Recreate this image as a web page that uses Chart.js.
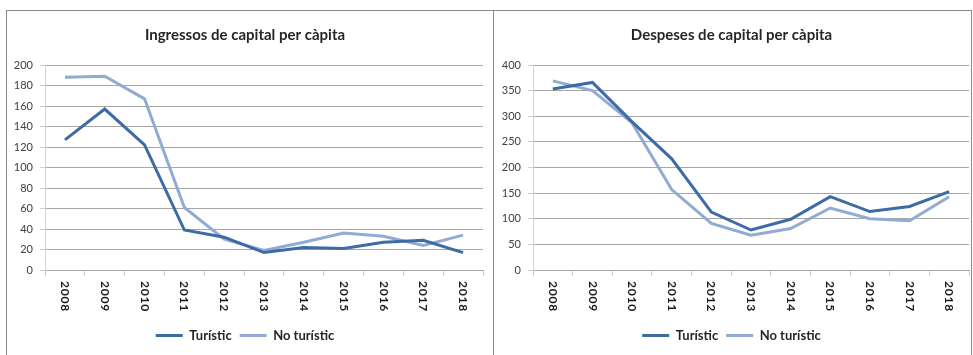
<!DOCTYPE html>
<html>
<head>
<meta charset="utf-8">
<script src="https://cdn.jsdelivr.net/npm/chart.js@4.4.1/dist/chart.umd.min.js"></script>
<style>
  html, body { margin: 0; padding: 0; background: #fff; }
  body { width: 973px; height: 355px; position: relative; overflow: hidden; }
  .panel { position: absolute; top: 10px; height: 360px; border-top: 1px solid #8a8a8a; border-left: 1px solid #8a8a8a; box-sizing: border-box; }
  #p1 { left: 6px; width: 488px; }
  #p2 { left: 493px; width: 479px; border-right: 1px solid #8a8a8a; }
  .panel canvas { position: absolute; left: 0; top: 0; }
</style>
</head>
<body>
<div class="panel" id="p1"><canvas id="ingressos" width="486" height="344"></canvas></div>
<div class="panel" id="p2"><canvas id="despeses" width="477" height="344"></canvas></div>
<script>
const years = ["2008", "2009", "2010", "2011", "2012", "2013", "2014", "2015", "2016", "2017", "2018"]

// Ingressos de capital per càpita
const ingressosTuristic   = [127, 157, 122, 39, 32, 17, 22, 21, 27, 29, 17]
const ingressosNoTuristic = [188, 189, 167, 61, 30, 19, 27, 36, 33, 24, 34]

// Despeses de capital per càpita
const despesesTuristic   = [353, 366, 289, 217, 113, 78, 99, 143, 114, 124, 153]
const despesesNoTuristic = [369, 350, 287, 157, 91, 68, 81, 121, 100, 96, 143]

const DARK = "#3d6ba5"
const LIGHT = "#91abd3"
const FONT = "Lato, 'Open Sans', sans-serif"

// year labels read top-to-bottom under the axis
const verticalYears = {
  id: "verticalYears",
  afterDraw(chart) {
    const scale = chart.scales.x
    const ctx = chart.ctx
    ctx.save()
    ctx.font = `bold 12px ${FONT}`
    ctx.letterSpacing = "0.8px"
    ctx.fillStyle = "#1a1a1a"
    ctx.textAlign = "left"
    ctx.textBaseline = "middle"
    chart.data.labels.forEach((label, i) => {
      const x = scale.getPixelForValue(i)
      ctx.save()
      ctx.translate(x, scale.top + 11)
      ctx.rotate(Math.PI / 2)
      ctx.fillText(label, 0, 0)
      ctx.restore()
    })
    ctx.restore()
  }
}

function lineChart(canvasId, title, turistic, noTuristic, max, step, axisWidth, padRight) {
  return new Chart(document.getElementById(canvasId), {
    type: "line",
    data: {
      labels: years,
      datasets: [
        { label: "Turístic", data: turistic, borderColor: DARK, backgroundColor: DARK, borderWidth: 3, pointRadius: 0, tension: 0 },
        { label: "No turístic", data: noTuristic, borderColor: LIGHT, backgroundColor: LIGHT, borderWidth: 3, pointRadius: 0, tension: 0 }
      ]
    },
    plugins: [verticalYears],
    options: {
      responsive: false,
      animation: false,
      events: [],
      layout: { padding: { left: 0, right: padRight, top: 0, bottom: 3 } },
      scales: {
        x: {
          offset: true,
          grid: { drawOnChartArea: false, drawTicks: true, tickLength: 6, tickColor: "#cfcfcf", offset: true },
          border: { color: "#a6a6a6" },
          ticks: { color: "rgba(0,0,0,0)", autoSkip: false, maxRotation: 90, minRotation: 90, font: { family: FONT, size: 12, weight: "bold" } },
          afterFit(scale) { scale.height = 51 }
        },
        y: {
          min: 0,
          max: max,
          ticks: { stepSize: step, color: "#404040", padding: 7, font: { family: FONT, size: 11 } },
          grid: { color: "#a6a6a6", tickLength: 5, tickColor: "#cfcfcf" },
          border: { color: "#d4d4d4" },
          afterFit(scale) { scale.width = axisWidth }
        }
      },
      plugins: {
        title: {
          display: true,
          text: title,
          color: "#262626",
          font: { family: FONT, size: 15, weight: "bold", lineHeight: 1.2 },
          padding: { top: 15, bottom: 21 }
        },
        legend: {
          position: "bottom",
          labels: {
            color: "#262626",
            boxWidth: 27,
            boxHeight: 3,
            padding: 8,
            font: { family: FONT, size: 13, weight: "bold" },
            generateLabels(chart) {
              return Chart.defaults.plugins.legend.labels.generateLabels(chart).map(item => {
                item.lineWidth = 0
                return item
              })
            }
          }
        },
        tooltip: { enabled: false }
      }
    }
  })
}

lineChart("ingressos", "Ingressos de capital per càpita", ingressosTuristic, ingressosNoTuristic, 200, 20, 38, 10)
lineChart("despeses", "Despeses de capital per càpita", despesesTuristic, despesesNoTuristic, 400, 50, 39, 2)
</script>
</body>
</html>
